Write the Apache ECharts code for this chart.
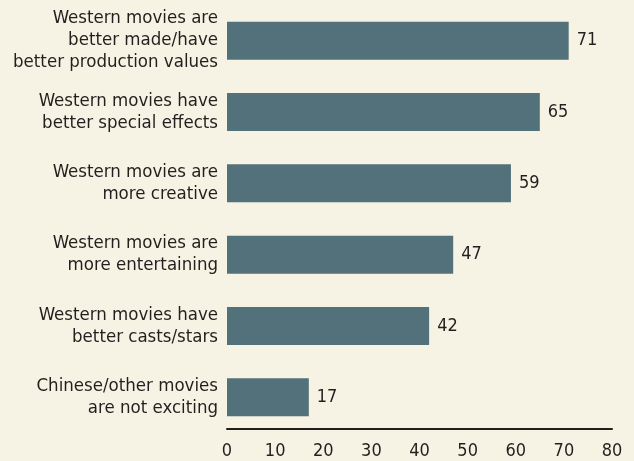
<!DOCTYPE html>
<html>
<head>
<meta charset="utf-8">
<script src="https://cdn.jsdelivr.net/npm/echarts@6/dist/echarts.min.js"></script>
<style>
  html, body { margin: 0; padding: 0; background: #f7f3e4; }
  #chart { width: 634px; height: 461px; }
</style>
</head>
<body>
<div id="chart"></div>
<script>
// Reasons given, top to bottom
const categories = [
  'Western movies are\nbetter made/have\nbetter production values',
  'Western movies have\nbetter special effects',
  'Western movies are\nmore creative',
  'Western movies are\nmore entertaining',
  'Western movies have\nbetter casts/stars',
  'Chinese/other movies\nare not exciting'
];
const values = [71, 65, 59, 47, 42, 17];
const axisTicks = [0, 10, 20, 30, 40, 50, 60, 70, 80];

const FONT = '"DejaVu Sans Condensed", "Liberation Sans", Arial, sans-serif';
const INK = '#231f1f';

const chart = echarts.init(document.getElementById('chart'), null, { renderer: 'canvas' });
chart.setOption({
  backgroundColor: '#f7f3e4',
  animation: false,
  grid: { left: 227, right: 22, top: 5, bottom: 28, containLabel: false },
  xAxis: {
    type: 'value',
    min: axisTicks[0],
    max: axisTicks[axisTicks.length - 1],
    interval: 10,
    offset: -4,
    axisLine: { show: true, lineStyle: { color: INK, width: 2 } },
    axisTick: { show: false },
    splitLine: { show: false },
    axisLabel: {
      margin: 13,
      color: INK,
      fontFamily: FONT,
      fontSize: 18,
      formatter: v => axisTicks.includes(v) ? String(v) : ''
    }
  },
  yAxis: {
    type: 'category',
    data: categories,
    inverse: true,
    axisLine: { show: false },
    axisTick: { show: false },
    axisLabel: {
      margin: 9,
      color: INK,
      fontFamily: FONT,
      fontSize: 18.5,
      lineHeight: 22,
      align: 'right'
    }
  },
  series: [{
    type: 'bar',
    data: values,
    barWidth: 38,
    itemStyle: { color: '#52717a' },
    label: {
      show: true,
      position: 'right',
      distance: 8,
      color: INK,
      fontFamily: FONT,
      fontSize: 18
    }
  }]
});
</script>
</body>
</html>
